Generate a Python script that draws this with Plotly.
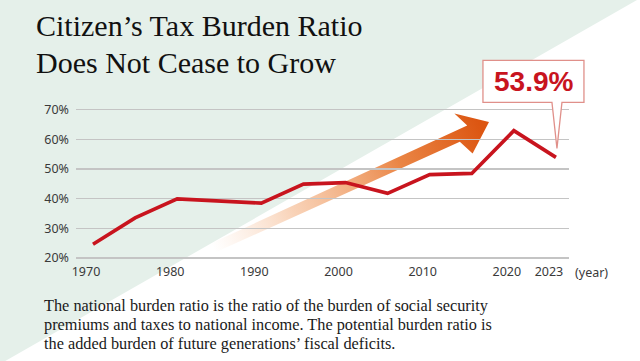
import base64
import plotly.graph_objects as go

# ---------------- data ----------------
slots = ["1970", "1975", "1980", "1985", "1990", "1995", "2000", "2005",
         "2010", "2015", "2020", "2023"]
burden = [24.6, 33.5, 39.9, None, 38.5, 44.9, 45.4, 41.8, 48.1, 48.5, 62.9, 53.9]
tick_years = ["1970", "1980", "1990", "2000", "2010", "2020", "2023"]
y_ticks = [20, 30, 40, 50, 60, 70]
title_lines = ["Citizen\u2019s Tax Burden Ratio", "Does Not Cease to Grow"]
note_lines = [
    "The national burden ratio is the ratio of the burden of social security",
    "premiums and taxes to national income. The potential burden ratio is",
    "the added burden of future generations\u2019 fiscal deficits.",
]

# ---------------- geometry helpers ----------------
W, H = 640, 361
L, R, T, B = 76, 71, 108, 102
PW, PH = W - L - R, H - T - B
X_RANGE = [-0.404, 11.31]
Y_RANGE = [19.66, 70.54]


def xp(px):
    return (px - L) / PW


def yp(py):
    return 1 - (py - T) / PH


RED = "#c8141e"
GREEN_BG = "#e5f0ea"

# decorative background triangle + gradient arrow (SVG in canvas pixels)
svg = f"""<svg xmlns='http://www.w3.org/2000/svg' width='{W}' height='{H}' viewBox='0 0 {W} {H}'>
<defs>
<linearGradient id='g' gradientUnits='userSpaceOnUse' x1='213' y1='248' x2='480' y2='126'>
<stop offset='0' stop-color='#f6c09a' stop-opacity='0'/>
<stop offset='0.3' stop-color='#f2a670' stop-opacity='0.5'/>
<stop offset='0.7' stop-color='#e87a34' stop-opacity='0.92'/>
<stop offset='1' stop-color='#dc5612' stop-opacity='1'/>
</linearGradient>
</defs>
<polygon points='0,0 637,0 0,364' fill='{GREEN_BG}'/>
<polygon points='211.0,243.4 467.2,125.4 454.4,113.6 489,122 472.6,153.6 459.8,141.8 215.0,252.6' fill='url(#g)'/>
</svg>"""
svg_uri = "data:image/svg+xml;base64," + base64.b64encode(svg.encode()).decode()

fig = go.Figure()
fig.add_trace(go.Scatter(
    x=slots, y=burden, mode="lines", connectgaps=True,
    line=dict(color=RED, width=3.6), hoverinfo="skip", showlegend=False,
))

fig.add_layout_image(dict(
    source=svg_uri, xref="paper", yref="paper",
    x=xp(0), y=yp(0), sizex=W / PW, sizey=H / PH,
    xanchor="left", yanchor="top", sizing="stretch", layer="below",
))

# callout box anchored to the last data point (converted via the axis ranges)
last_i = len(slots) - 1
last_y = burden[-1]
anchor_x = (last_i - X_RANGE[0]) / (X_RANGE[1] - X_RANGE[0])
anchor_y = (last_y - Y_RANGE[0]) / (Y_RANGE[1] - Y_RANGE[0])
fig.add_shape(
    type="path", xref="paper", yref="paper", xsizemode="pixel", ysizemode="pixel",
    xanchor=anchor_x, yanchor=anchor_y,
    path="M-73,97 L28,97 L28,55 L6,55 L1,9 L-4,55 L-73,55 Z",
    fillcolor="white", line=dict(color="#e0908a", width=1.3), layer="above",
)
fig.add_annotation(
    x=last_i, y=last_y, xref="x", yref="y", showarrow=False,
    text=f"<b>{last_y}%</b>", xanchor="center", yanchor="middle", xshift=-22, yshift=76,
    font=dict(family="Liberation Sans", size=28, color=RED),
)

# title
for i, line in enumerate(title_lines):
    fig.add_annotation(
        x=xp(34), y=yp(25 + 37 * i), xref="paper", yref="paper", showarrow=False,
        text=line, xanchor="left", yanchor="middle",
        font=dict(family="Liberation Serif", size=30, color="#111111"),
    )

# note
for i, line in enumerate(note_lines):
    fig.add_annotation(
        x=xp(42), y=yp(305 + 19.3 * i), xref="paper", yref="paper", showarrow=False,
        text=line, xanchor="left", yanchor="middle",
        font=dict(family="Liberation Serif", size=16.3, color="#1a1a1a"),
    )

# year unit
fig.add_annotation(
    x=xp(591), y=yp(272), xref="paper", yref="paper", showarrow=False,
    text="(year)", xanchor="center", yanchor="middle",
    font=dict(family="Noto Sans", size=12.5, color="#3a3a3a"),
)

fig.update_layout(
    width=W, height=H,
    margin=dict(l=L, r=R, t=T, b=B, pad=0),
    paper_bgcolor="white", plot_bgcolor="rgba(0,0,0,0)",
    showlegend=False,
    font=dict(family="Noto Sans", size=12.5, color="#3a3a3a"),
)
fig.update_xaxes(
    type="category", categoryorder="array", categoryarray=slots,
    range=X_RANGE, tickmode="array", tickvals=tick_years, ticktext=tick_years,
    showgrid=False, zeroline=False, showline=False, ticks="",
    ticklabelstandoff=3, ticklabelshift=-7,
)
fig.update_yaxes(
    range=Y_RANGE, tickmode="array", tickvals=y_ticks,
    ticktext=[f"{v}%" for v in y_ticks],
    showgrid=True, gridcolor="#c4c4c4", gridwidth=1.4, zeroline=False,
    showline=False, ticks="", ticklabelstandoff=6,
)

fig.write_html(
    "out.html",
    config={"displayModeBar": False, "staticPlot": True},
    post_script="document.body.style.margin='0';document.body.style.overflow='hidden';",
)
